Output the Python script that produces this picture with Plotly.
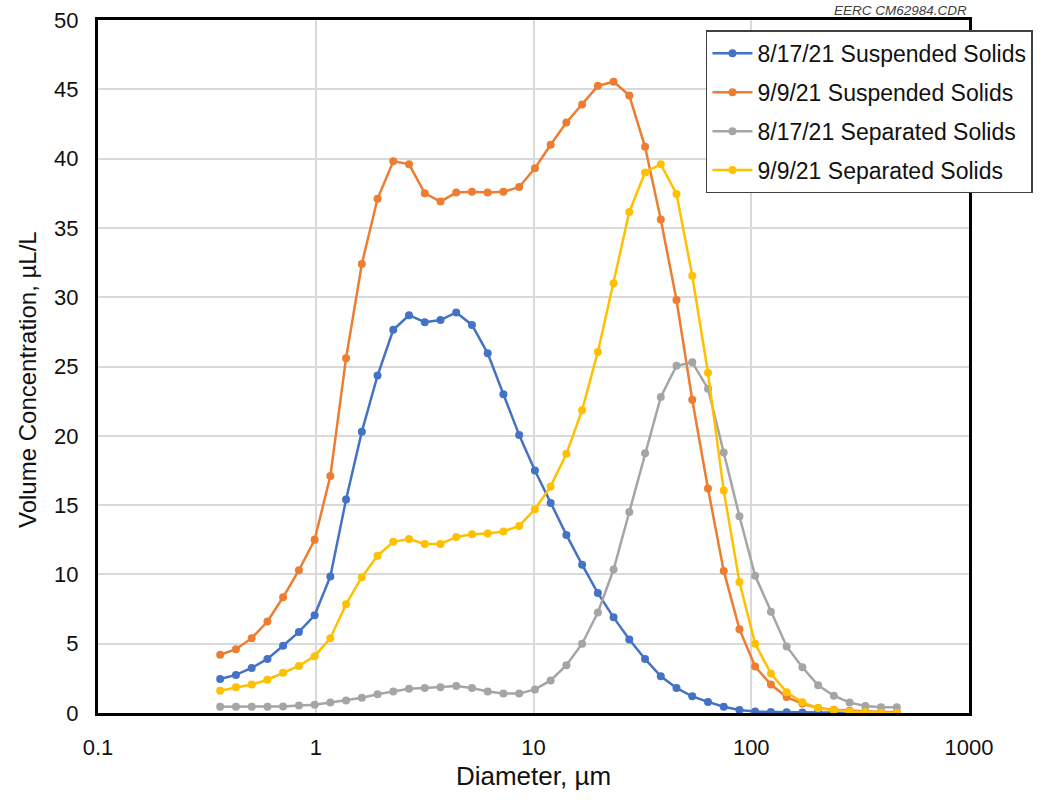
import plotly.graph_objects as go

diameter_um = [0.364, 0.430, 0.508, 0.600, 0.708, 0.837, 0.988, 1.167, 1.378, 1.628,
               1.922, 2.270, 2.681, 3.167, 3.740, 4.417, 5.217, 6.161, 7.276, 8.593,
               10.15, 11.99, 14.16, 16.72, 19.75, 23.32, 27.54, 32.53, 38.42, 45.37,
               53.58, 63.28, 74.74, 88.27, 104.2, 123.1, 145.4, 171.7, 202.8, 239.5,
               282.9, 334.1, 394.6, 466.0]

susp_0817 = [2.45, 2.75, 3.25, 3.9, 4.85, 5.85, 7.05, 9.85, 15.4, 20.3, 24.35, 27.65,
             28.7, 28.2, 28.35, 28.9, 28.0,
             25.95, 23.0, 20.05, 17.5, 15.15, 12.85, 10.7, 8.65, 6.9, 5.3, 3.9, 2.65,
             1.8, 1.2, 0.8, 0.45, 0.22, 0.1, 0.07, 0.05, 0.04, 0.03, 0.02, 0.02, 0.01,
             0.01, 0.0]

susp_0909 = [4.2, 4.6, 5.4, 6.6, 8.35, 10.3, 12.5, 17.1, 25.6, 32.4, 37.1, 39.8, 39.6,
             37.5, 36.9, 37.55, 37.6,
             37.55, 37.6, 37.95, 39.3, 41.0, 42.6, 43.9, 45.25, 45.55, 44.55, 40.85,
             35.6, 29.8, 22.6, 16.2, 10.25, 6.05, 3.35, 2.05, 1.15, 0.68, 0.36, 0.24,
             0.17, 0.12, 0.08, 0.05]

sep_0817 = [0.45, 0.45, 0.45, 0.45, 0.47, 0.55, 0.6, 0.75, 0.9, 1.1, 1.35, 1.55, 1.75,
            1.8, 1.85, 1.95, 1.8,
            1.55, 1.4, 1.4, 1.7, 2.35, 3.45, 5.0, 7.25, 10.35, 14.5, 18.75, 22.8, 25.05,
            25.3, 23.4, 18.8, 14.2, 9.9, 7.3, 4.8, 3.3, 2.0, 1.25, 0.75, 0.5, 0.42, 0.42]

sep_0909 = [1.6, 1.85, 2.05, 2.4, 2.9, 3.4, 4.1, 5.4, 7.85, 9.8, 11.35, 12.35, 12.55,
            12.2, 12.2, 12.7, 12.9,
            12.95, 13.1, 13.5, 14.7, 16.35, 18.7, 21.85, 26.05, 31.0, 36.15, 39.0, 39.6,
            37.45, 31.55, 24.55, 16.05, 9.45, 5.0, 2.85, 1.5, 0.77, 0.36, 0.19, 0.1,
            0.07, 0.02, 0.0]

series_names = ["8/17/21 Suspended Solids", "9/9/21 Suspended Solids",
                "8/17/21 Separated Solids", "9/9/21 Separated Solids"]
series_values = [susp_0817, susp_0909, sep_0817, sep_0909]
series_colors = ["#4472C4", "#ED7D31", "#A5A5A5", "#FFC000"]

x_tick_vals = [0.1, 1, 10, 100, 1000]
x_tick_text = ["0.1", "1", "10", "100", "1000"]
y_tick_vals = [0, 5, 10, 15, 20, 25, 30, 35, 40, 45, 50]

FONT = "Liberation Sans, Arial, sans-serif"

fig = go.Figure()
for i, (name, vals, col) in enumerate(zip(series_names, series_values, series_colors)):
    fig.add_trace(go.Scatter(
        x=diameter_um, y=vals, name=name, mode="lines+markers",
        line=dict(color=col, width=2.5),
        marker=dict(color=col, size=8),
        legendgroup=f"g{i}",
    ))

fig.update_layout(
    width=1042, height=801,
    margin=dict(l=98, r=73, t=20, b=88, autoexpand=False),
    paper_bgcolor="white", plot_bgcolor="white",
    font=dict(family=FONT, color="#111111", size=22),
    showlegend=True,
    legend=dict(
        x=0.698, y=0.985, xanchor="left", yanchor="top",
        bgcolor="white", bordercolor="#404040", borderwidth=1.5,
        font=dict(family=FONT, size=23, color="#111111"),
        tracegroupgap=6, itemwidth=40,
    ),
    xaxis=dict(
        type="log", range=[-1, 3],
        tickvals=x_tick_vals, ticktext=x_tick_text,
        showgrid=True, gridcolor="#D9D9D9", gridwidth=1.5,
        showline=True, linecolor="black", linewidth=3, mirror=True,
        ticks="", ticklabelstandoff=13,
        tickfont=dict(size=22),
        title=dict(text="Diameter, \u00b5m", font=dict(size=26), standoff=8),
        zeroline=False,
    ),
    yaxis=dict(
        range=[0, 50], tickvals=y_tick_vals,
        showgrid=True, gridcolor="#D9D9D9", gridwidth=1.5,
        showline=True, linecolor="black", linewidth=3, mirror=True,
        ticks="", ticklabelstandoff=12,
        tickfont=dict(size=22),
        zeroline=False,
    ),
    annotations=[
        dict(text="<i>EERC CM62984.CDR</i>", x=1.0, xanchor="right", y=1.0,
             yanchor="bottom", xref="paper", yref="paper", showarrow=False,
             font=dict(size=13.5, color="#404040")),
        dict(text="Volume Concentration, \u00b5L/L", textangle=-90,
             x=-70 / 871, xanchor="center", y=1 - (380 - 20) / 693, yanchor="middle",
             xref="paper", yref="paper", showarrow=False,
             font=dict(size=24, color="#111111")),
    ],
)

fig.write_html("out.html")
